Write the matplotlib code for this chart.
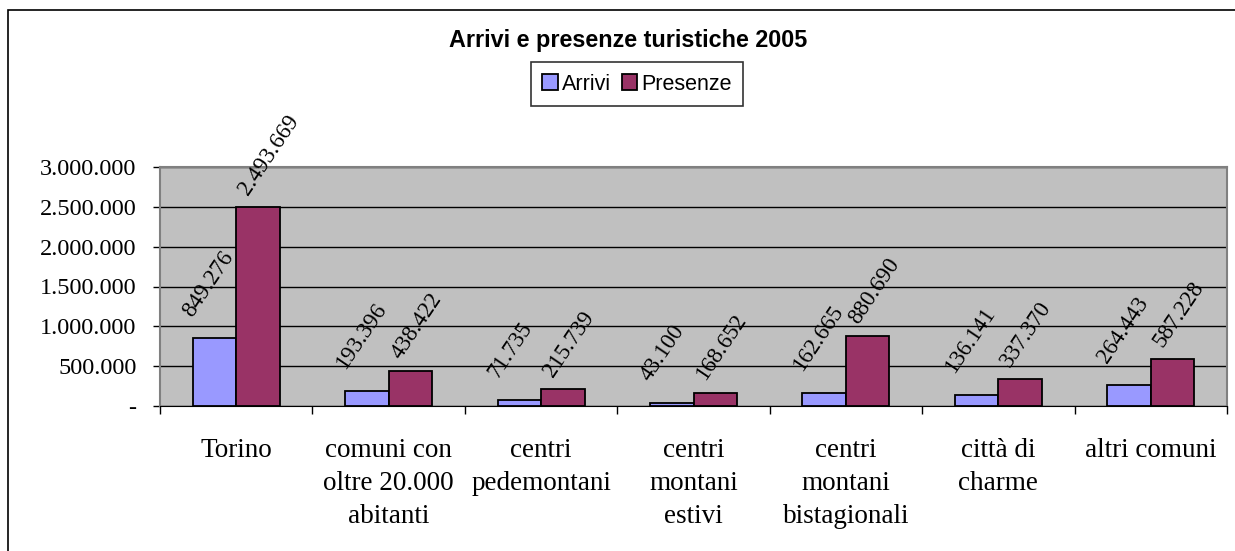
import numpy as np
import matplotlib.pyplot as plt
from matplotlib.patches import Rectangle
from matplotlib.ticker import FuncFormatter

categories = ["Torino", "comuni con\noltre 20.000\nabitanti", "centri\npedemontani",
              "centri\nmontani\nestivi", "centri\nmontani\nbistagionali",
              "città di\ncharme", "altri comuni"]
arrivi = [849276, 193396, 71735, 43100, 162665, 136141, 264443]
presenze = [2493669, 438422, 215739, 168652, 880690, 337370, 587228]
series = ["Arrivi", "Presenze"]
colors = ["#9999FF", "#993366"]


def fmt(v, pos=None):
    if v == 0:
        return "-"
    return f"{int(round(v)):,}".replace(",", ".")


serif = "Liberation Serif"
sans = "Liberation Sans"

fig = plt.figure(figsize=(12.35, 5.51), dpi=100)
# outer chart frame (cut off at right and bottom like the original)
fig.patches.append(Rectangle((8 / 1235, -10 / 551), 1240 / 1235, 551 / 551,
                             transform=fig.transFigure, fill=False,
                             edgecolor="black", linewidth=1.2))

ax = fig.add_axes([160 / 1235, 1 - 406 / 551, 1067 / 1235, 239 / 551])
ax.set_facecolor("#C0C0C0")

x = np.arange(len(categories))
w = 0.285
label_offsets = [(-16, 15), (-7, 8)]
for i, (vals, name) in enumerate(zip([arrivi, presenze], series)):
    pos = x + (i - 0.5) * w
    ax.bar(pos, vals, width=w, color=colors[i], edgecolor="black",
           linewidth=1.3, label=name, zorder=3)
    for px, v in zip(pos, vals):
        ax.annotate(fmt(v), (px, v), xytext=label_offsets[i],
                    textcoords="offset points", rotation=56,
                    rotation_mode="anchor", ha="left", va="baseline",
                    fontsize=16.5, family=serif)

ax.set_ylim(0, 3000000)
ax.set_xlim(-0.5, len(categories) - 0.5)
ax.set_yticks(np.arange(0, 3000001, 500000))
ax.yaxis.set_major_formatter(FuncFormatter(fmt))
ax.grid(axis="y", color="black", linewidth=1, zorder=1)
ax.set_axisbelow(True)

ax.set_xticks(x)
ax.set_xticklabels(categories, fontsize=19.5, family=serif, linespacing=1.42)
ax.set_xticks(np.arange(-0.5, len(categories)), minor=True)
ax.tick_params(axis="x", which="major", length=0, pad=23)
ax.tick_params(axis="x", which="minor", length=6, width=1, color="black")
ax.tick_params(axis="y", length=5, width=1, labelsize=17.5, pad=12)
for lab in ax.get_yticklabels():
    lab.set_family(serif)

for s in ["top", "right", "left"]:
    ax.spines[s].set_color("#808080")
    ax.spines[s].set_linewidth(1.5)
ax.spines["bottom"].set_color("black")

fig.text(628 / 1235, 1 - 40 / 551, "Arrivi e presenze turistiche 2005", ha="center",
         va="center", fontsize=16.8, fontweight="bold", family=sans)
leg = fig.legend(loc="center", bbox_to_anchor=(637 / 1235, 1 - 84 / 551), ncol=2,
                 frameon=True, fancybox=False, edgecolor="black",
                 prop={"family": sans, "size": 15.5}, handlelength=0.7,
                 handleheight=0.7, handletextpad=0.2, columnspacing=0.5,
                 borderpad=0.55, borderaxespad=0)
leg.get_frame().set_linewidth(1.2)

fig.savefig("out.png", dpi=100)
